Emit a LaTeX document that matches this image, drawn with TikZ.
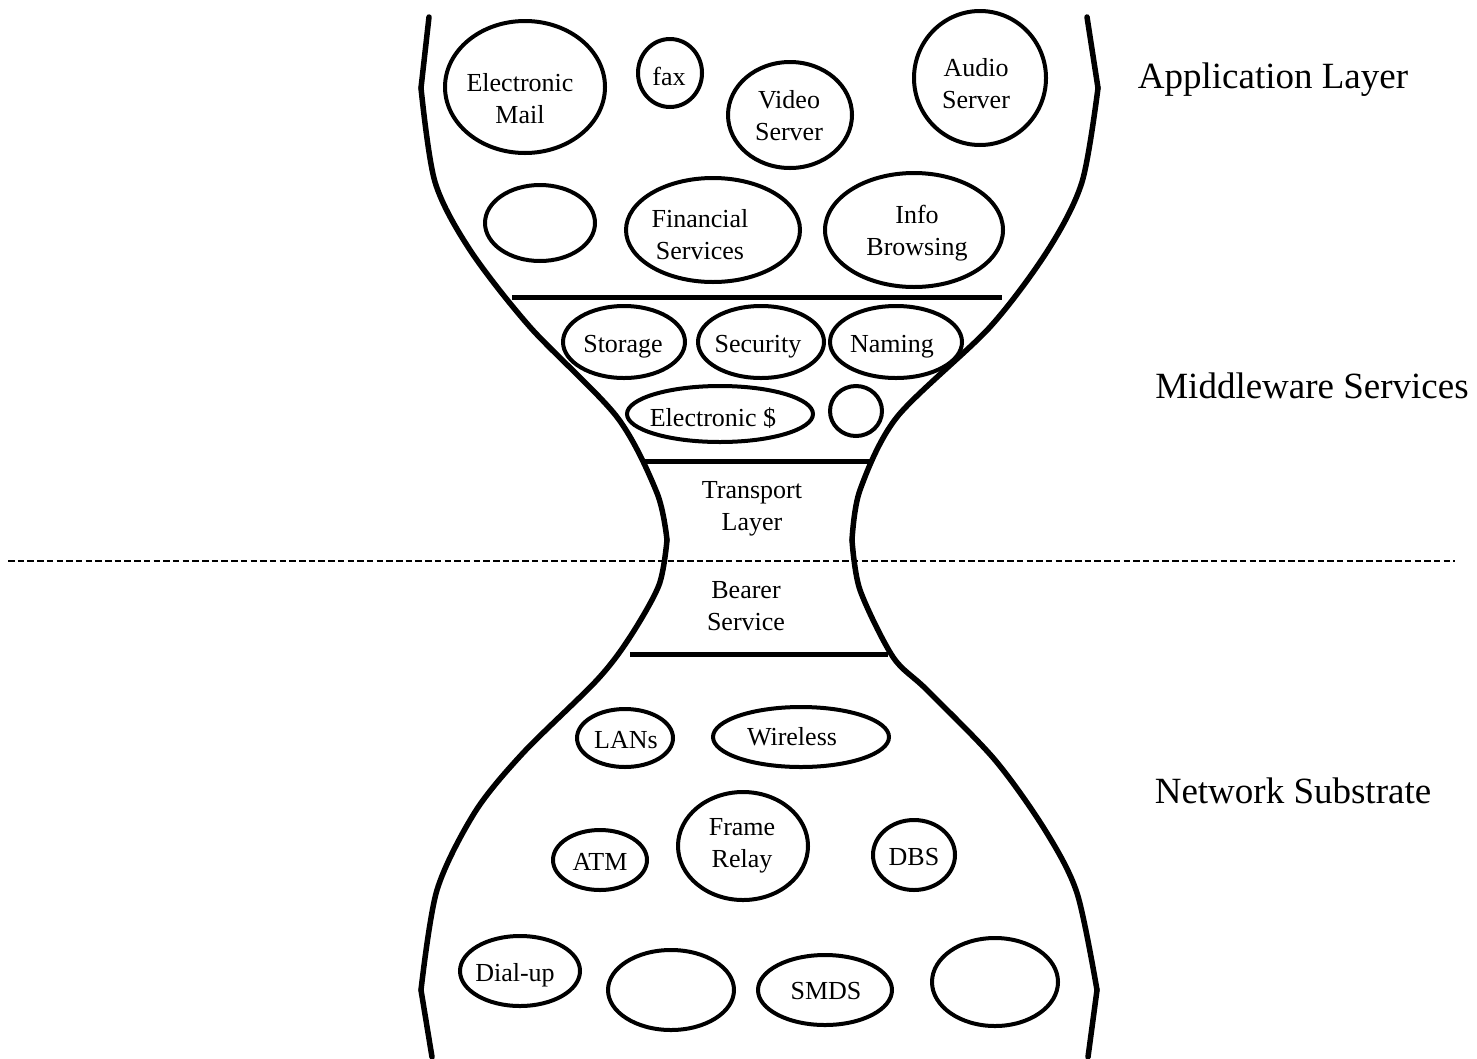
\documentclass[tikz,border=0pt]{standalone}
\usepackage{fontspec}
\setmainfont{Liberation Serif}
\begin{document}
\begin{tikzpicture}[x=1pt,y=-1pt,
  bubble/.style={line width=4pt},
  rim/.style={line width=5.5pt, line join=round, line cap=round},
  bar/.style={line width=5pt},
  divider/.style={line width=1.8pt, dash pattern=on 6.5pt off 3.2pt},
  lbl/.style={font=\fontsize{26}{32}\selectfont, align=center, inner sep=0pt},
  layer/.style={font=\fontsize{37}{44}\selectfont, inner sep=0pt}]
\useasboundingbox (0,0) rectangle (1477,1058);

% hourglass rim, left side
\draw[rim] (429,17) -- (421,88);
\draw[rim] plot[smooth, tension=0.5] coordinates {(421,88) (435,182) (470,250) (530,327) (617,417) (657,493) (667,540)};
\draw[rim] plot[smooth, tension=0.5] coordinates {(667,540) (659,585) (630,637) (597,680) (523,753) (475,812) (437,890) (421,990)};
\draw[rim] (421,990) -- (432,1057);
% hourglass rim, right side
\draw[rim] (1087,17) -- (1098,88);
\draw[rim] plot[smooth, tension=0.5] coordinates {(1098,88) (1082,182) (1048,250) (990,327) (897,417) (860,490) (852,540)};
\draw[rim] plot[smooth, tension=0.5] coordinates {(852,540) (860,590) (893,657) (927,690) (995,760) (1045,830) (1077,893) (1097,990)};
\draw[rim] (1097,990) -- (1088,1057);

% layer bars
\coordinate (b1l) at (512,297); \coordinate (b1r) at (1002,297);
\coordinate (b2l) at (643,461); \coordinate (b2r) at (872,461);
\coordinate (b3l) at (630,654); \coordinate (b3r) at (888,654);
\draw[bar] (b1l) -- (b1r);
\draw[bar] (b2l) -- (b2r);
\draw[bar] (b3l) -- (b3r);

% dashed divider
\coordinate (dl) at (8,561); \coordinate (dr) at (1455,561);
\draw[divider] (dl) -- (dr);

% application bubbles
\draw[bubble] (525,87) ellipse [x radius=80pt, y radius=66pt];
\draw[bubble] (670,73) ellipse [x radius=32pt, y radius=34pt];
\draw[bubble] (790,115) ellipse [x radius=62pt, y radius=53pt];
\draw[bubble] (980,78) ellipse [x radius=66pt, y radius=67pt];
\draw[bubble] (540,223) ellipse [x radius=55pt, y radius=38pt];
\draw[bubble] (713,230) ellipse [x radius=87pt, y radius=52pt];
\draw[bubble] (914,230) ellipse [x radius=89pt, y radius=57pt];
\node[lbl] (email) at (520,99) {Electronic\\Mail};
\node[lbl] (fax) at (669,76) {fax};
\node[lbl] (video) at (789,116) {Video\\Server};
\node[lbl] (audio) at (976,84) {Audio\\Server};
\node[lbl] (fin) at (700,235) {Financial\\Services};
\node[lbl] (info) at (917,233) {Info\\Browsing};

% middleware bubbles
\draw[bubble] (624,342) ellipse [x radius=61pt, y radius=36pt];
\draw[bubble] (761,342) ellipse [x radius=63pt, y radius=36pt];
\draw[bubble] (896,342) ellipse [x radius=66pt, y radius=36pt];
\draw[bubble] (720,414) ellipse [x radius=93pt, y radius=28pt];
\draw[bubble] (856,411) ellipse [x radius=26pt, y radius=25pt];
\node[lbl] (storage) at (623,347) {Storage};
\node[lbl] (security) at (758,347) {Security};
\node[lbl] (naming) at (892,347) {Naming};
\node[lbl] (emoney) at (713,418) {Electronic \$};

% waist
\node[lbl] (transport) at (752,509) {Transport\\Layer};
\node[lbl] (bearer) at (746,606) {Bearer\\Service};

% network bubbles
\draw[bubble] (625,738) ellipse [x radius=48pt, y radius=29pt];
\draw[bubble] (801,737) ellipse [x radius=88pt, y radius=30pt];
\draw[bubble] (600,860) ellipse [x radius=47pt, y radius=30pt];
\draw[bubble] (743,846) ellipse [x radius=65pt, y radius=54pt];
\draw[bubble] (914,855) ellipse [x radius=41pt, y radius=35pt];
\draw[bubble] (520,971) ellipse [x radius=60pt, y radius=35pt];
\draw[bubble] (671,990) ellipse [x radius=63pt, y radius=40pt];
\draw[bubble] (825,990) ellipse [x radius=67pt, y radius=35pt];
\draw[bubble] (995,982) ellipse [x radius=63pt, y radius=44pt];
\node[lbl] (lans) at (626,740) {LANs};
\node[lbl] (wireless) at (792,737) {Wireless};
\node[lbl] (atm) at (600,862) {ATM};
\node[lbl] (frame) at (742,846) {Frame\\Relay};
\node[lbl] (dbs) at (914,857) {DBS};
\node[lbl] (dialup) at (515,975) {Dial-up};
\node[lbl] (smds) at (826,991) {SMDS};

% layer captions
\node[layer] (app) at (1273,80) {Application Layer};
\node[layer] (mid) at (1312,386) {Middleware Services};
\node[layer] (net) at (1293,791) {Network Substrate};
\end{tikzpicture}
\end{document}
